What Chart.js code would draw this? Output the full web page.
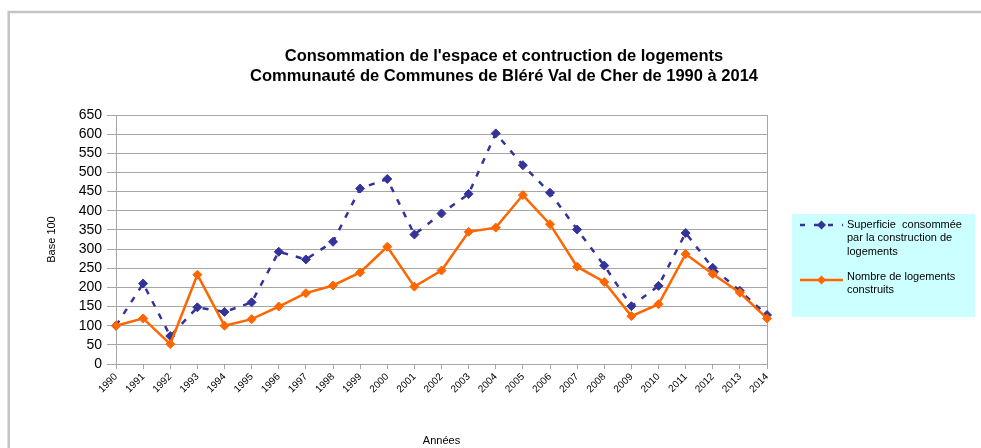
<!DOCTYPE html>
<html lang="fr">
<head>
<meta charset="utf-8">
<title>Consommation de l'espace et construction de logements</title>
<script src="https://cdn.jsdelivr.net/npm/chart.js@4/dist/chart.umd.min.js"></script>
<style>
  html, body { margin: 0; padding: 0; background: #fff; }
  #wrap { position: relative; width: 981px; height: 448px; }
</style>
</head>
<body>
<div id="wrap"><canvas id="chart" width="981" height="448"></canvas></div>
<script>
// Années observées
const years = ['1990','1991','1992','1993','1994','1995','1996','1997','1998','1999',
               '2000','2001','2002','2003','2004','2005','2006','2007','2008','2009',
               '2010','2011','2012','2013','2014'];

// Superficie consommée par la construction de logements (base 100 en 1990)
const superficie = [100, 210, 73, 148, 136, 161, 293, 273, 319, 458,
                    483, 338, 393, 444, 602, 519, 447, 351, 257, 151,
                    204, 342, 251, 191, 128];

// Nombre de logements construits (base 100 en 1990)
const logements = [100, 119, 52, 233, 100, 117, 150, 185, 205, 239,
                   306, 202, 244, 345, 356, 441, 365, 254, 214, 125,
                   156, 287, 235, 186, 119];

// Graduations de l'axe vertical
const yMin = 0;
const yMax = 650;
const yStep = 50;

const titleLines = [
  "Consommation de l'espace et contruction de logements",
  "Communauté de Communes de Bléré Val de Cher de 1990 à 2014"
];
const legendSuperficie = ['Superficie  consommée', 'par la construction de', 'logements'];
const legendLogements = ['Nombre de logements', 'construits'];

const BLUE = '#333399';
const ORANGE = '#ff6600';
const GRID = '#a6a6a6';
const FONT = '"Liberation Sans", Arial, sans-serif';

// Cadre gris du graphique
const framePlugin = {
  id: 'frame',
  beforeDraw(chart) {
    const ctx = chart.ctx;
    ctx.save();
    ctx.fillStyle = '#ffffff';
    ctx.fillRect(0, 0, chart.width, chart.height);
    ctx.strokeStyle = '#c4c4c4';
    ctx.lineWidth = 2.5;
    ctx.beginPath();
    ctx.moveTo(8.7, chart.height);
    ctx.lineTo(8.7, 12);
    ctx.lineTo(chart.width, 12);
    ctx.stroke();
    ctx.restore();
  }
};

// Titre sur deux lignes, centré sur le cadre
const titlePlugin = {
  id: 'twoLineTitle',
  afterDraw(chart) {
    const ctx = chart.ctx;
    ctx.save();
    ctx.fillStyle = '#000';
    ctx.font = 'bold 16.5px ' + FONT;
    ctx.textAlign = 'center';
    ctx.textBaseline = 'middle';
    titleLines.forEach((t, i) => ctx.fillText(t, 504, 56 + i * 20));
    ctx.restore();
  }
};

// Légende dans un encadré cyan à droite
const legendBoxPlugin = {
  id: 'legendBox',
  afterDraw(chart) {
    const ctx = chart.ctx;
    const x0 = 792, y0 = 214, w = 183, h = 103;
    ctx.save();
    ctx.fillStyle = '#ccffff';
    ctx.fillRect(x0, y0, w, h);

    const sx1 = 800, sx2 = 843, mx = 821.5;
    const diamond = (cx, cy, r, color) => {
      ctx.fillStyle = color;
      ctx.beginPath();
      ctx.moveTo(cx, cy - r);
      ctx.lineTo(cx + r, cy);
      ctx.lineTo(cx, cy + r);
      ctx.lineTo(cx - r, cy);
      ctx.closePath();
      ctx.fill();
    };

    // Série 1 : pointillés bleus
    ctx.strokeStyle = BLUE;
    ctx.lineWidth = 2.5;
    ctx.setLineDash([5, 9]);
    ctx.beginPath();
    ctx.moveTo(sx1, 225);
    ctx.lineTo(sx2, 225);
    ctx.stroke();
    ctx.setLineDash([]);
    diamond(mx, 225, 4.5, BLUE);

    // Série 2 : trait continu orange
    ctx.strokeStyle = ORANGE;
    ctx.beginPath();
    ctx.moveTo(sx1, 280);
    ctx.lineTo(sx2, 280);
    ctx.stroke();
    diamond(mx, 280, 4.5, ORANGE);

    ctx.fillStyle = '#000';
    ctx.font = '11px ' + FONT;
    ctx.textBaseline = 'middle';
    ctx.textAlign = 'left';
    legendSuperficie.forEach((t, i) => ctx.fillText(t, 847, 225 + i * 13.3));
    legendLogements.forEach((t, i) => ctx.fillText(t, 847, 277 + i * 12.6));
    ctx.restore();
  }
};

new Chart(document.getElementById('chart'), {
  type: 'line',
  data: {
    labels: years,
    datasets: [
      {
        label: legendSuperficie.join(' '),
        data: superficie,
        borderColor: BLUE,
        backgroundColor: BLUE,
        borderWidth: 2.5,
        borderDash: [6, 8],
        pointStyle: 'rectRot',
        pointRadius: 4.5,
        pointBackgroundColor: BLUE,
        pointBorderColor: BLUE,
        pointBorderWidth: 1,
        tension: 0,
        fill: false,
        order: 2
      },
      {
        label: legendLogements.join(' '),
        data: logements,
        borderColor: ORANGE,
        backgroundColor: ORANGE,
        borderWidth: 2.5,
        pointStyle: 'rectRot',
        pointRadius: 4.5,
        pointBackgroundColor: ORANGE,
        pointBorderColor: ORANGE,
        pointBorderWidth: 1,
        tension: 0,
        fill: false,
        order: 1
      }
    ]
  },
  options: {
    responsive: false,
    animation: false,
    devicePixelRatio: 1,
    layout: { padding: { left: 41, right: 214, top: 115, bottom: 0 } },
    plugins: {
      legend: { display: false },
      tooltip: { enabled: false },
      title: { display: false }
    },
    scales: {
      x: {
        type: 'category',
        offset: false,
        border: { display: true, color: GRID, width: 1 },
        grid: {
          color: (c) => (c.index === years.length - 1 ? GRID : 'rgba(0,0,0,0)'),
          tickColor: GRID,
          tickLength: 5,
          drawTicks: true
        },
        ticks: {
          autoSkip: false,
          minRotation: 45,
          maxRotation: 45,
          padding: 2,
          color: '#000',
          font: { family: FONT, size: 10 }
        },
        title: {
          display: true,
          text: 'Années',
          color: '#000',
          font: { family: FONT, size: 11 },
          padding: { top: 0, bottom: 0 }
        },
        afterFit(scale) { scale.height = 84; }
      },
      y: {
        min: yMin,
        max: yMax,
        border: { display: true, color: GRID, width: 1 },
        grid: {
          color: GRID,
          tickColor: GRID,
          tickLength: 9,
          drawTicks: true
        },
        ticks: {
          stepSize: yStep,
          autoSkip: false,
          padding: 5,
          color: '#000',
          font: { family: FONT, size: 14, lineHeight: 1 }
        },
        title: {
          display: true,
          text: 'Base 100',
          color: '#000',
          font: { family: FONT, size: 11 },
          padding: { top: 4, bottom: 0 }
        },
        afterFit(scale) { scale.width = 75; }
      }
    }
  },
  plugins: [framePlugin, titlePlugin, legendBoxPlugin]
});
</script>
</body>
</html>
